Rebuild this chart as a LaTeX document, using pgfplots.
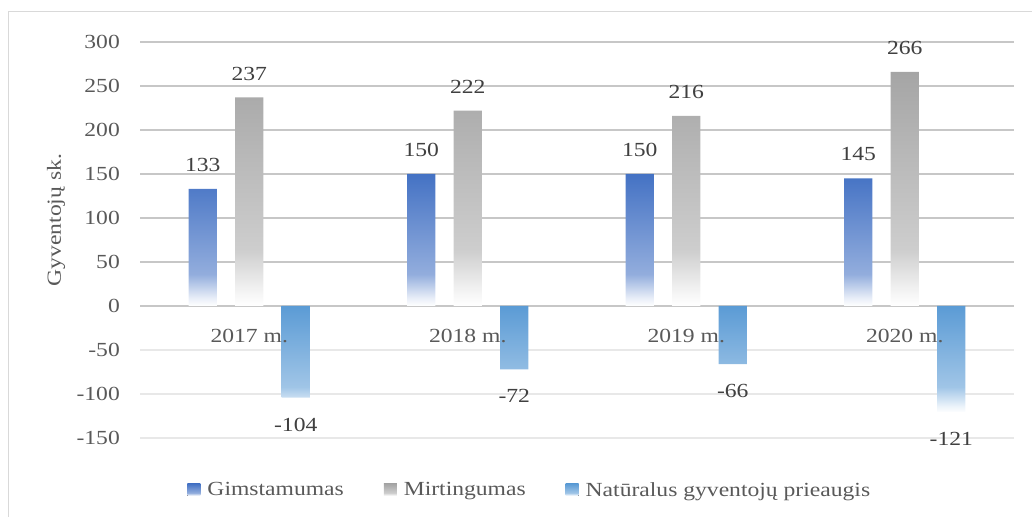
\documentclass[border=0pt]{standalone}
\usepackage{fontspec}
\setmainfont{Liberation Serif}[FakeStretch=1.18]
\usepackage{pgfplots}
\pgfplotsset{compat=1.18}

\definecolor{gimc}{RGB}{68,114,196}
\definecolor{mirc}{RGB}{165,165,165}
\definecolor{natc}{RGB}{91,155,213}
\definecolor{txt}{RGB}{89,89,89}
\definecolor{lbl}{RGB}{64,64,64}
\definecolor{frm}{RGB}{217,217,217}

% gradient like Excel: full colour at the top, fading to white near the bottom
\pgfdeclareverticalshading{gimsh}{100bp}{color(0bp)=(white); color(25bp)=(white); color(28bp)=(gimc!12!white); color(37bp)=(gimc!58!white); color(75bp)=(gimc); color(100bp)=(gimc)}
\pgfdeclareverticalshading{mirsh}{100bp}{color(0bp)=(white); color(25bp)=(white); color(28bp)=(mirc!12!white); color(37bp)=(mirc!55!white); color(75bp)=(mirc); color(100bp)=(mirc)}
\pgfdeclareverticalshading{natsh}{100bp}{color(0bp)=(white); color(25bp)=(white); color(28bp)=(natc!12!white); color(37bp)=(natc!58!white); color(75bp)=(natc); color(100bp)=(natc)}

\pgfplotsset{
  swatch/.style={legend image code/.code={\fill[##1] (0bp,-6bp) rectangle (13bp,6bp);}},
}

\begin{document}
\begin{tikzpicture}[font=\fontsize{20bp}{24bp}\selectfont]
\begin{axis}[
  set layers,
  scale only axis, width=874bp, height=396bp,
  xmin=-0.5, xmax=3.5, ymin=-150, ymax=300,
  axis x line=middle, axis y line=left,
  axis line style={draw=none},
  clip=false,
  xtick={0,1,2,3},
  xticklabels={2017 m.,2018 m.,2019 m.,2020 m.},
  xticklabel style={text=txt, inner sep=0pt, anchor=north, yshift=-23bp,
    /pgfplots/on layer=axis foreground},
  ytick={-150,-100,-50},
  extra y ticks={0,50,100,150,200,250,300},
  yticklabel style={text=txt, inner sep=0pt, anchor=east, xshift=-20bp},
  tick style={draw=none}, major tick length=0pt,
  /pgf/number format/assume math mode=true,
  ymajorgrids,
  grid style={line width=1.2bp, color=black!9},
  extra tick style={grid style={line width=1.2bp, color=black!22}},
  every axis y label/.style={at={(axis description cs:-0.096,0.55)}, rotate=90, anchor=center, text=txt},
  ylabel={Gyventojų sk.},
  nodes near coords,
  every node near coord/.append style={text=lbl, inner xsep=0pt, inner ysep=17bp},
  legend style={at={(0.446,-0.131)}, anchor=center, draw=none, fill=none,
    legend columns=3,
    /tikz/every odd column/.style={column sep=5bp},
    /tikz/every even column/.style={column sep=38bp}},
]
\addplot[ybar, bar width=0.13, bar shift=-0.2128, draw=none, shading=gimsh, swatch,
  every node near coord/.append style={xshift=-46.5bp}]
  coordinates {(0,133) (1,150) (2,150) (3,145)};
\addlegendentry{\textcolor{txt}{Gimstamumas}}
\addplot[ybar, bar width=0.13, bar shift=0, draw=none, shading=mirsh, swatch]
  coordinates {(0,237) (1,222) (2,216) (3,266)};
\addlegendentry{\textcolor{txt}{Mirtingumas}}
\addplot[ybar, bar width=0.13, bar shift=0.2128, draw=none, shading=natsh, swatch,
  every node near coord/.append style={xshift=46.5bp, yshift=-3bp}]
  coordinates {(0,-104) (1,-72) (2,-66) (3,-121)};
\addlegendentry{\textcolor{txt}{Natūralus gyventojų prieaugis}}

\coordinate (TL) at (rel axis cs:-0.16018,1.10606);
\coordinate (BR) at (rel axis cs:1.02059,-0.19949);
\coordinate (FL) at (rel axis cs:-0.15103,-0.19949);
\coordinate (FT) at (rel axis cs:1.02059,1.07576);
\end{axis}
\draw[frm, line width=1bp] (FL) |- (FT);
\pgfresetboundingbox
\useasboundingbox (TL) rectangle (BR);
\end{tikzpicture}
\end{document}
